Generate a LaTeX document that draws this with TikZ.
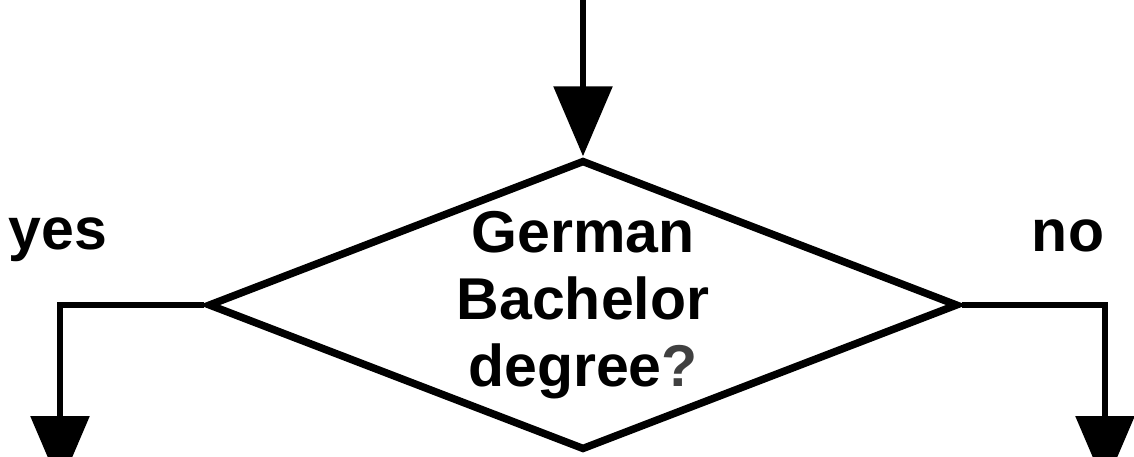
\documentclass[tikz,border=0pt]{standalone}
\usepackage{fontspec}
\setmainfont{Liberation Sans}
\usetikzlibrary{positioning,arrows.meta,shapes.geometric}

\begin{document}
\begin{tikzpicture}[x=1pt,y=-1pt,
      >={Triangle[length=70pt,width=58pt]},
      decision/.style={diamond,draw=black,line width=7.5pt,aspect=2.6,
        minimum width=750pt,minimum height=290pt,inner sep=0pt,
        align=center,font=\bfseries\fontsize{59}{67}\selectfont},
      flow/.style={draw=black,line width=6pt,->},
      answer/.style={font=\bfseries\fontsize{59}{67}\selectfont}
    ]
    \useasboundingbox (0,0) rectangle (1134,456);
    \clip (0,0) rectangle (1134,456);
    \node[decision] (Q) at (583,305)
      {German\\Bachelor\\degree\textcolor{black!75}{?}};
    \coordinate (start) at (583,-20);
    \coordinate (yesend) at (60,486);
    \coordinate (noend) at (1105,486);
    \draw[flow] (start) -- (Q.north);
    \draw[flow] (Q.west) -| (yesend);
    \draw[flow] (Q.east) -| (noend);
    \node[answer] (yes) at (58,240) {yes};
    \node[answer] (no) at (1068,236) {no};
  \end{tikzpicture}
\end{document}
